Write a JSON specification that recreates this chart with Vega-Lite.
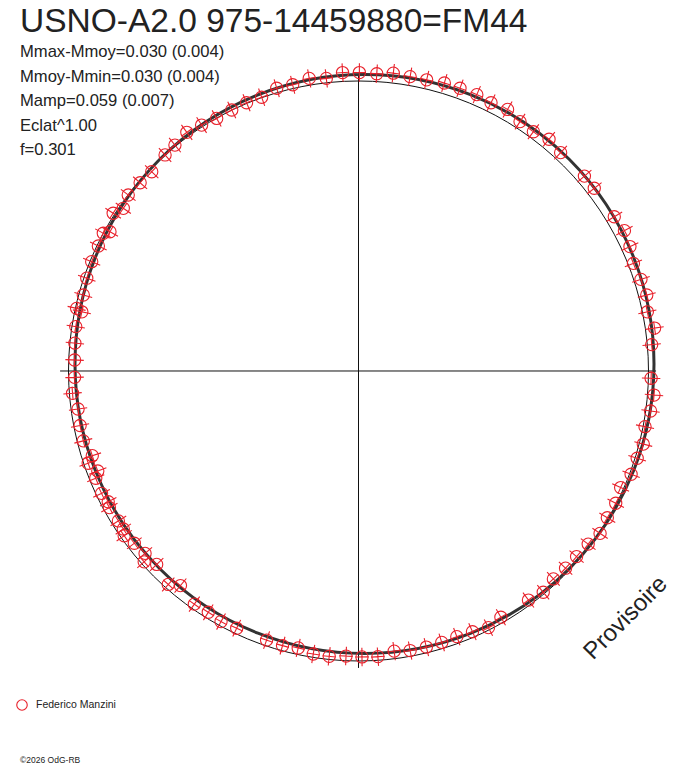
{
  "$schema": "https://vega.github.io/schema/vega-lite/v6.json",
  "width": 688,
  "height": 768,
  "autosize": "none",
  "padding": 0,
  "background": "white",
  "title": {
    "text": "USNO-A2.0 975-14459880=FM44",
    "subtitle": [
      "Mmax-Mmoy=0.030 (0.004)",
      "Mmoy-Mmin=0.030 (0.004)",
      "Mamp=0.059 (0.007)",
      "Eclat^1.00",
      "f=0.301"
    ],
    "orient": "top",
    "anchor": "start",
    "frame": "group",
    "offset": -160,
    "dx": 20,
    "font": "Liberation Sans",
    "fontSize": 33.5,
    "fontWeight": "normal",
    "color": "#222",
    "subtitleFont": "Liberation Sans",
    "subtitleFontSize": 16.6,
    "subtitleColor": "#222",
    "subtitleLineHeight": 24.6,
    "subtitlePadding": 5
  },
  "config": {
    "view": {"stroke": null},
    "axis": {"disable": true}
  },
  "layer": [
    {
      "data": {"values": [{}]},
      "mark": {"type": "point", "shape": "circle", "size": 336400, "filled": false, "color": "#111", "strokeWidth": 1, "opacity": 1},
      "encoding": {
        "x": {"datum": 0, "type": "quantitative", "scale": {"domain": [-1.2362, 1.1362], "nice": false, "zero": false}},
        "y": {"datum": 0, "type": "quantitative", "scale": {"domain": [-1.369, 1.2793], "nice": false, "zero": false}}
      }
    },
    {
      "data": {"values": [{}]},
      "mark": {"type": "rule", "color": "#111", "strokeWidth": 1},
      "encoding": {
        "x": {"datum": -1.029, "type": "quantitative", "scale": {"domain": [-1.2362, 1.1362], "nice": false, "zero": false}},
        "x2": {"datum": 1.026},
        "y": {"datum": 0, "type": "quantitative", "scale": {"domain": [-1.369, 1.2793], "nice": false, "zero": false}}
      }
    },
    {
      "data": {"values": [{}]},
      "mark": {"type": "rule", "color": "#111", "strokeWidth": 1},
      "encoding": {
        "x": {"datum": 0, "type": "quantitative", "scale": {"domain": [-1.2362, 1.1362], "nice": false, "zero": false}},
        "y": {"datum": -1.024, "type": "quantitative", "scale": {"domain": [-1.369, 1.2793], "nice": false, "zero": false}},
        "y2": {"datum": 1.021}
      }
    },
    {
      "data": {"values": [{}]},
      "mark": {"type": "point", "shape": "circle", "size": 335241, "filled": false, "color": "#333", "strokeWidth": 3, "opacity": 1},
      "encoding": {
        "x": {"datum": 0.0207, "type": "quantitative", "scale": {"domain": [-1.2362, 1.1362], "nice": false, "zero": false}},
        "y": {"datum": 0.0241, "type": "quantitative", "scale": {"domain": [-1.369, 1.2793], "nice": false, "zero": false}}
      }
    },
    {
      "data": {"name": "obs"},
      "layer": [
        {
          "mark": {"type": "point", "shape": "circle", "size": 150, "filled": false, "strokeWidth": 1.1, "opacity": 1},
          "encoding": {
            "x": {"field": "x", "type": "quantitative", "scale": {"domain": [-1.2362, 1.1362], "nice": false, "zero": false}},
            "y": {"field": "y", "type": "quantitative", "scale": {"domain": [-1.369, 1.2793], "nice": false, "zero": false}},
            "color": {
              "datum": "Federico Manzini",
              "scale": {"range": ["#e8202a"]},
              "legend": {
                "orient": "none",
                "legendX": 16,
                "legendY": 699,
                "title": null,
                "symbolType": "circle",
                "symbolSize": 110,
                "symbolStrokeWidth": 1.1,
                "labelFont": "Liberation Sans",
                "labelFontSize": 10.5,
                "labelColor": "#222",
                "labelOffset": 8
              }
            }
          }
        },
        {
          "transform": [{"calculate": "atan2(datum.x, datum.y) * 180 / PI", "as": "ang"}],
          "mark": {"type": "point", "shape": "M0,-1L0,1M-0.72,0L0.72,0", "size": 340, "filled": false, "color": "#e8202a", "strokeWidth": 1.1, "opacity": 1},
          "encoding": {
            "x": {"field": "x", "type": "quantitative", "scale": {"domain": [-1.2362, 1.1362], "nice": false, "zero": false}},
            "y": {"field": "y", "type": "quantitative", "scale": {"domain": [-1.369, 1.2793], "nice": false, "zero": false}},
            "angle": {"field": "ang", "type": "quantitative", "scale": null}
          }
        }
      ]
    },
    {
      "data": {"values": [{"label": "Provisoire"}]},
      "mark": {"type": "text", "font": "Liberation Sans", "fontSize": 24, "color": "#222", "angle": -45, "align": "center", "baseline": "middle"},
      "encoding": {
        "x": {"datum": 0.922, "type": "quantitative", "scale": {"domain": [-1.2362, 1.1362], "nice": false, "zero": false}},
        "y": {"datum": -0.852, "type": "quantitative", "scale": {"domain": [-1.369, 1.2793], "nice": false, "zero": false}},
        "text": {"field": "label"}
      }
    },
    {
      "data": {"values": [{"label": "©2026 OdG-RB"}]},
      "mark": {"type": "text", "font": "Liberation Sans", "fontSize": 8.5, "color": "#222", "align": "left", "baseline": "middle"},
      "encoding": {
        "x": {"datum": -1.167, "type": "quantitative", "scale": {"domain": [-1.2362, 1.1362], "nice": false, "zero": false}},
        "y": {"datum": -1.341, "type": "quantitative", "scale": {"domain": [-1.369, 1.2793], "nice": false, "zero": false}},
        "text": {"field": "label"}
      }
    }
  ],
  "datasets": {
    "obs": [
      {"x": 0.003, "y": 1.029}, {"x": 0.063, "y": 1.025}, {"x": 0.120, "y": 1.027}, {"x": 0.178, "y": 1.015},
      {"x": 0.235, "y": 1.004}, {"x": 0.296, "y": 0.993}, {"x": 0.350, "y": 0.975}, {"x": 0.408, "y": 0.953},
      {"x": 0.457, "y": 0.925}, {"x": 0.514, "y": 0.902}, {"x": 0.557, "y": 0.860}, {"x": 0.603, "y": 0.825},
      {"x": 0.657, "y": 0.799}, {"x": 0.697, "y": 0.753}, {"x": 0.779, "y": 0.672}, {"x": 0.813, "y": 0.630},
      {"x": 0.882, "y": 0.532}, {"x": 0.917, "y": 0.484}, {"x": 0.936, "y": 0.429}, {"x": 0.948, "y": 0.371},
      {"x": 0.974, "y": 0.316}, {"x": 0.994, "y": 0.262}, {"x": 0.996, "y": 0.204}, {"x": 1.021, "y": 0.148},
      {"x": 1.011, "y": 0.091}, {"x": 1.009, "y": -0.025}, {"x": 1.019, "y": -0.083}, {"x": 1.007, "y": -0.138},
      {"x": 0.988, "y": -0.192}, {"x": 0.982, "y": -0.252}, {"x": 0.961, "y": -0.301}, {"x": 0.940, "y": -0.356},
      {"x": 0.904, "y": -0.402}, {"x": 0.887, "y": -0.456}, {"x": 0.858, "y": -0.506}, {"x": 0.833, "y": -0.560},
      {"x": 0.792, "y": -0.597}, {"x": 0.752, "y": -0.640}, {"x": 0.714, "y": -0.680}, {"x": 0.672, "y": -0.717},
      {"x": 0.637, "y": -0.763}, {"x": 0.586, "y": -0.790}, {"x": 0.491, "y": -0.849}, {"x": 0.448, "y": -0.885},
      {"x": 0.393, "y": -0.899}, {"x": 0.339, "y": -0.916}, {"x": 0.287, "y": -0.936}, {"x": 0.234, "y": -0.952},
      {"x": 0.178, "y": -0.964}, {"x": 0.123, "y": -0.966}, {"x": 0.067, "y": -0.985}, {"x": 0.012, "y": -0.986},
      {"x": -0.043, "y": -0.983}, {"x": -0.101, "y": -0.984}, {"x": -0.156, "y": -0.976}, {"x": -0.208, "y": -0.955},
      {"x": -0.262, "y": -0.947}, {"x": -0.317, "y": -0.928}, {"x": -0.420, "y": -0.887}, {"x": -0.474, "y": -0.864},
      {"x": -0.518, "y": -0.832}, {"x": -0.566, "y": -0.804}, {"x": -0.614, "y": -0.740}, {"x": -0.656, "y": -0.736},
      {"x": -0.696, "y": -0.667}, {"x": -0.739, "y": -0.658}, {"x": -0.736, "y": -0.629}, {"x": -0.773, "y": -0.594},
      {"x": -0.808, "y": -0.568}, {"x": -0.811, "y": -0.545}, {"x": -0.828, "y": -0.517}, {"x": -0.859, "y": -0.471},
      {"x": -0.863, "y": -0.451}, {"x": -0.886, "y": -0.422}, {"x": -0.906, "y": -0.370}, {"x": -0.899, "y": -0.345},
      {"x": -0.932, "y": -0.318}, {"x": -0.918, "y": -0.292}, {"x": -0.949, "y": -0.241}, {"x": -0.960, "y": -0.188},
      {"x": -0.967, "y": -0.131}, {"x": -0.986, "y": -0.077}, {"x": -0.979, "y": -0.022}, {"x": -0.979, "y": 0.038},
      {"x": -0.978, "y": 0.096}, {"x": -0.975, "y": 0.153}, {"x": -0.954, "y": 0.204}, {"x": -0.972, "y": 0.216},
      {"x": -0.949, "y": 0.262}, {"x": -0.937, "y": 0.320}, {"x": -0.920, "y": 0.377}, {"x": -0.897, "y": 0.431},
      {"x": -0.880, "y": 0.475}, {"x": -0.857, "y": 0.480}, {"x": -0.846, "y": 0.544}, {"x": -0.811, "y": 0.561},
      {"x": -0.794, "y": 0.607}, {"x": -0.753, "y": 0.649}, {"x": -0.713, "y": 0.687}, {"x": -0.667, "y": 0.745},
      {"x": -0.633, "y": 0.779}, {"x": -0.592, "y": 0.823}, {"x": -0.541, "y": 0.848}, {"x": -0.489, "y": 0.871},
      {"x": -0.437, "y": 0.900}, {"x": -0.386, "y": 0.925}, {"x": -0.334, "y": 0.944}, {"x": -0.282, "y": 0.975},
      {"x": -0.227, "y": 0.987}, {"x": -0.170, "y": 1.009}, {"x": -0.111, "y": 1.009}, {"x": -0.055, "y": 1.029}
    ]
  }
}
